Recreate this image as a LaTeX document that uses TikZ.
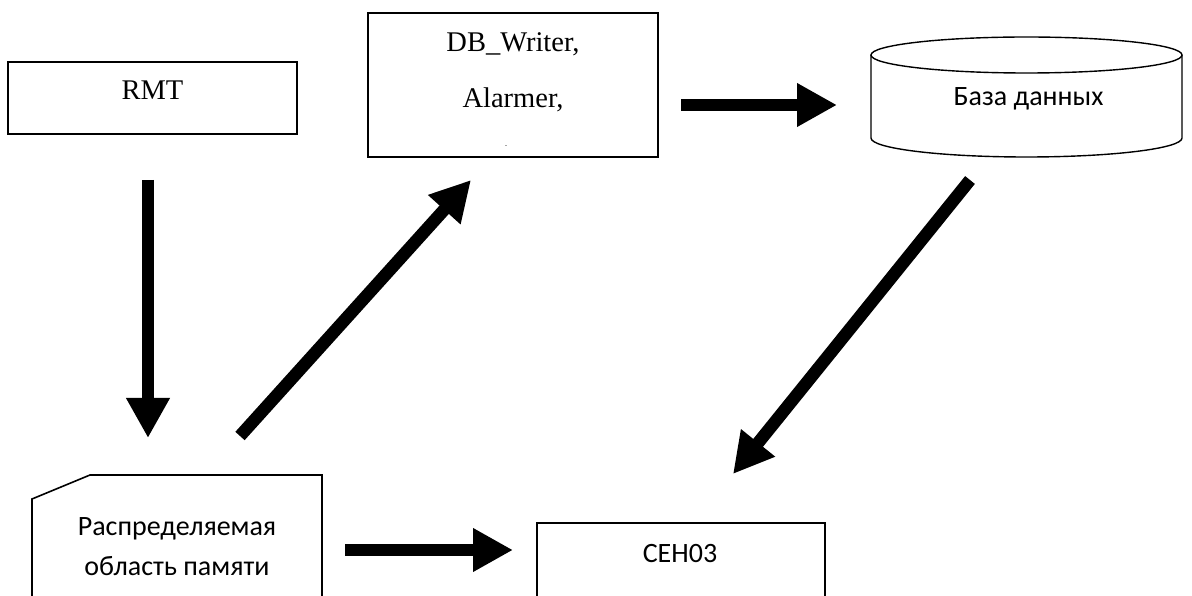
\documentclass[tikz,border=0pt]{standalone}
\usepackage{fontspec}
\setmainfont{Liberation Serif}
\newfontfamily\calibri{Carlito}
\usetikzlibrary{arrows.meta}

\begin{document}
\begin{tikzpicture}[x=1pt,y=1pt,
  box/.style={draw=black, line width=1.6pt, inner sep=0pt},
  serif/.style={font=\fontsize{28.5}{30}\selectfont, anchor=base, inner sep=0pt},
  sans/.style={font=\calibri\fontsize{28}{30}\selectfont, anchor=base, inner sep=0pt},
  flow/.style={line width=12.5pt, -{Triangle[length=40pt,width=41pt]}}]
\useasboundingbox (0,0) rectangle (1192,595);
% boxes
\node[box, minimum width=289pt, minimum height=72pt] (rmt) at (152.5,497) {};
\node[serif] (rmttxt) at ([yshift=-38pt]rmt.north) {RMT};
\node[box, minimum width=290pt, minimum height=144pt] (dbw) at (513,510) {};
\node[serif] (dbwtxt1) at ([yshift=-39pt]dbw.north) {DB\_Writer,};
\node[serif] (dbwtxt2) at ([yshift=-95pt]dbw.north) {Alarmer,};
\node[font=\fontsize{6}{6}\selectfont, inner sep=0pt] (dbwtxt3) at (506,448) {-};
% database
\draw[line width=1.4pt] (871,540) -- (871,457) arc[start angle=180, end angle=360, x radius=155.5, y radius=19] -- (1182,540);
\draw[line width=1.4pt] (1026.5,540) ellipse [x radius=155.5, y radius=18];
\node[sans] (dbtxt) at (1028.5,489) {База данных};
% shared memory
\draw[line width=1.6pt] (32,-5) -- (32,96) -- (90,120) -- (322,120) -- (322,-5);
\node[sans] (memtxt1) at (177,60) {Распределяемая};
\node[sans] (memtxt2) at (177,20) {область памяти};
% CEH03
\draw[line width=1.6pt] (537,-5) -- (537,72) -- (825,72) -- (825,-5);
\node[sans] (cehtxt) at (680,33) {CEH03};
% arrow ends
\coordinate (rmtout) at (148,415);
\coordinate (memin) at (148,157);
\coordinate (memup) at (240,159);
\coordinate (dbwin) at (471,415);
\coordinate (dbwout) at (681,490);
\coordinate (dbin) at (837,490);
\coordinate (dbout) at (970,415);
\coordinate (cehin) at (733,121);
\coordinate (memout) at (345,45);
\coordinate (cehleft) at (513,45);
\draw[flow] (rmtout) -- (memin);
\draw[flow] (memup) -- (dbwin);
\draw[flow] (dbwout) -- (dbin);
\draw[flow] (dbout) -- (cehin);
\draw[flow] (memout) -- (cehleft);
\end{tikzpicture}
\end{document}
